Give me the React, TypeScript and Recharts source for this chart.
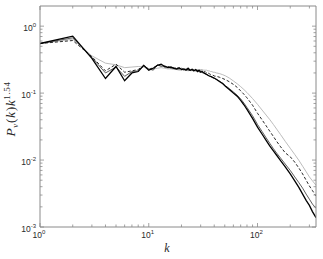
import React from 'react';
import { LineChart, Line, XAxis, YAxis } from 'recharts';

const K = [1, 2, 3, 4, 5, 6, 7, 8, 9, 10, 11, 12, 13, 14, 15, 16, 17, 18, 19, 20, 21, 22, 23, 24, 25, 26, 27, 28, 29, 30, 31, 32, 33, 34, 35, 36, 37, 38, 39, 40,
  42, 45, 48, 51, 55, 60, 65, 70, 75, 80, 90, 100, 110, 120, 130, 140, 150, 163, 180, 200, 220, 240, 260, 280, 300, 320, 345];

const SERIES_BLACK = [0.55, 0.71, 0.33, 0.165, 0.25, 0.153, 0.2, 0.21, 0.26, 0.22,
  0.235, 0.26, 0.27, 0.25, 0.24, 0.245, 0.235, 0.23, 0.24, 0.225,
  0.23, 0.22, 0.235, 0.22, 0.225, 0.215, 0.225, 0.21, 0.22, 0.205,
  0.21, 0.2, 0.195, 0.19, 0.185, 0.18, 0.178, 0.175, 0.17, 0.168,
  0.16, 0.148, 0.138, 0.125, 0.113, 0.1, 0.09, 0.078, 0.067, 0.057,
  0.042, 0.031, 0.0245, 0.0197, 0.0161, 0.0137, 0.0118, 0.0098, 0.0079, 0.0062,
  0.0049, 0.0039, 0.0031, 0.0025, 0.0021, 0.0017, 0.00138];

const SERIES_THIN = [0.55, 0.67, 0.34, 0.2, 0.245, 0.178, 0.21, 0.215, 0.255, 0.23,
  0.22, 0.265, 0.25, 0.255, 0.245, 0.235, 0.24, 0.225, 0.23, 0.235,
  0.22, 0.23, 0.225, 0.215, 0.23, 0.22, 0.215, 0.22, 0.205, 0.215,
  0.2, 0.205, 0.195, 0.19, 0.185, 0.18, 0.178, 0.172, 0.17, 0.166,
  0.16, 0.15, 0.14, 0.128, 0.117, 0.104, 0.093, 0.082, 0.071, 0.061,
  0.046, 0.034, 0.0268, 0.0215, 0.0177, 0.0148, 0.0127, 0.0107, 0.0087, 0.007,
  0.0056, 0.0046, 0.0038, 0.0031, 0.0026, 0.0022, 0.0019];

const SERIES_DASHED = [0.55, 0.61, 0.35, 0.215, 0.27, 0.205, 0.215, 0.225, 0.26, 0.225,
  0.24, 0.255, 0.265, 0.245, 0.25, 0.24, 0.235, 0.24, 0.23, 0.235,
  0.225, 0.23, 0.22, 0.23, 0.225, 0.22, 0.225, 0.215, 0.22, 0.21,
  0.215, 0.205, 0.21, 0.2, 0.2, 0.195, 0.19, 0.188, 0.185, 0.18,
  0.178, 0.172, 0.165, 0.158, 0.148, 0.135, 0.122, 0.108, 0.096, 0.085,
  0.066, 0.05, 0.04, 0.0325, 0.0268, 0.0225, 0.019, 0.0158, 0.0128, 0.0112,
  0.0093, 0.0076, 0.0062, 0.005, 0.0041, 0.0035, 0.0029];

const SERIES_GRAY = [0.55, 0.64, 0.36, 0.28, 0.265, 0.24, 0.245, 0.25, 0.245, 0.225,
  0.23, 0.235, 0.24, 0.235, 0.23, 0.23, 0.225, 0.225, 0.22, 0.22,
  0.225, 0.22, 0.215, 0.22, 0.215, 0.22, 0.22, 0.225, 0.22, 0.225,
  0.225, 0.22, 0.22, 0.22, 0.215, 0.215, 0.21, 0.21, 0.205, 0.205,
  0.2, 0.195, 0.188, 0.18, 0.168, 0.152, 0.138, 0.125, 0.113, 0.102,
  0.083, 0.068, 0.056, 0.047, 0.04, 0.034, 0.029, 0.024, 0.019, 0.015,
  0.0121, 0.0099, 0.0081, 0.0067, 0.0056, 0.0049, 0.0042];

const X_TICKS = [1, 2, 3, 4, 5, 6, 7, 8, 9, 10, 20, 30, 40, 50, 60, 70, 80, 90, 100, 200, 300];
const X_MAJOR = [1, 10, 100];
const X_LABELS = ['0', '1', '2'];
const Y_TICKS = [0.001, 0.002, 0.003, 0.004, 0.005, 0.006, 0.007, 0.008, 0.009,
  0.01, 0.02, 0.03, 0.04, 0.05, 0.06, 0.07, 0.08, 0.09,
  0.1, 0.2, 0.3, 0.4, 0.5, 0.6, 0.7, 0.8, 0.9, 1];
const Y_MAJOR = [0.001, 0.01, 0.1, 1];
const Y_LABELS = ['-3', '-2', '-1', '0'];

const data = K.map((k, i) => ({
  k,
  b: SERIES_BLACK[i],
  t: SERIES_THIN[i],
  d: SERIES_DASHED[i],
  g: SERIES_GRAY[i],
}));

const W = 323;
const H = 259;
const M = { top: 5, right: 6, bottom: 31, left: 39 };
const PL = 40;
const PR = 316;
const PT = 6;
const PB = 227;
const AXIS = '#8a8a8a';
const TXT = '#2a2a2a';
const FONT = 'Liberation Sans, Arial, sans-serif';
const SERIF = 'Liberation Serif, Times New Roman, serif';
const MAJ = 4;
const MIN = 2.5;

const majIndex = (arr: number[], v: number) => arr.findIndex((m) => Math.abs(m - v) < 1e-9);

const XBottomTick = (props: any) => {
  const x = props.x;
  const idx = majIndex(X_MAJOR, props.payload.value);
  const len = idx >= 0 ? MAJ : MIN;
  return (
    <g>
      <line x1={x} x2={x} y1={PB} y2={PB - len} stroke={AXIS} strokeWidth={0.8} />
      {idx >= 0 && (
        <text x={x - 1} y={PB + 10.5} textAnchor="middle" fontFamily={FONT} fontSize={8.5} fill={TXT} style={{ fill: TXT }}>
          <tspan>10</tspan>
          <tspan dy={-4} fontSize={6}>{X_LABELS[idx]}</tspan>
        </text>
      )}
    </g>
  );
};

const XTopTick = (props: any) => {
  const x = props.x;
  const idx = majIndex(X_MAJOR, props.payload.value);
  const len = idx >= 0 ? MAJ : MIN;
  return <line x1={x} x2={x} y1={PT} y2={PT + len} stroke={AXIS} strokeWidth={0.8} />;
};

const YLeftTick = (props: any) => {
  const y = props.y;
  const idx = majIndex(Y_MAJOR, props.payload.value);
  const len = idx >= 0 ? MAJ : MIN;
  return (
    <g>
      <line x1={PL} x2={PL + len} y1={y} y2={y} stroke={AXIS} strokeWidth={0.8} />
      {idx >= 0 && (
        <text x={36} y={y + 4.5} textAnchor="end" fontFamily={FONT} fontSize={8.5} fill={TXT} style={{ fill: TXT }}>
          <tspan>10</tspan>
          <tspan dy={-4} fontSize={6}>{Y_LABELS[idx]}</tspan>
        </text>
      )}
    </g>
  );
};

const YRightTick = (props: any) => {
  const y = props.y;
  const idx = majIndex(Y_MAJOR, props.payload.value);
  const len = idx >= 0 ? MAJ : MIN;
  return <line x1={PR} x2={PR - len} y1={y} y2={y} stroke={AXIS} strokeWidth={0.8} />;
};

const XTitle = () => (
  <text x={167} y={252} textAnchor="middle" fontFamily={SERIF} fontStyle="italic" fontSize={12} style={{ fill: TXT }}>
    k
  </text>
);

const YTitle = () => (
  <text transform="translate(15,109) rotate(-90)" textAnchor="middle" fontFamily={SERIF} fontSize={13.5} style={{ fill: TXT }} letterSpacing={0.6}>
    <tspan fontStyle="italic">P</tspan>
    <tspan fontStyle="italic" fontSize={9} dy={2.5}>v</tspan>
    <tspan dy={-2.5}>(</tspan>
    <tspan fontStyle="italic">k</tspan>
    <tspan>)</tspan>
    <tspan fontStyle="italic">k</tspan>
    <tspan fontSize={9} dy={-5}>1.54</tspan>
  </text>
);

export default function App() {
  return (
    <div style={{ position: 'absolute', left: 0, top: 0, width: W, height: H, background: '#fff' }}>
      <LineChart width={W} height={H} data={data} margin={M}>
        <XAxis
          xAxisId="b"
          dataKey="k"
          type="number"
          scale="log"
          domain={[1, 345]}
          allowDataOverflow
          ticks={X_TICKS}
          interval={0}
          height={1}
          orientation="bottom"
          tickLine={false}
          axisLine={{ stroke: AXIS, strokeWidth: 1 }}
          tick={XBottomTick}
          label={{ content: XTitle }}
        />
        <XAxis
          xAxisId="t"
          dataKey="k"
          type="number"
          scale="log"
          domain={[1, 345]}
          allowDataOverflow
          ticks={X_TICKS}
          interval={0}
          height={1}
          orientation="top"
          tickLine={false}
          axisLine={{ stroke: AXIS, strokeWidth: 1 }}
          tick={XTopTick}
        />
        <YAxis
          yAxisId="l"
          type="number"
          scale="log"
          domain={[0.001, 2]}
          allowDataOverflow
          ticks={Y_TICKS}
          interval={0}
          width={1}
          orientation="left"
          tickLine={false}
          axisLine={{ stroke: AXIS, strokeWidth: 1 }}
          tick={YLeftTick}
          label={{ content: YTitle }}
        />
        <YAxis
          yAxisId="r"
          type="number"
          scale="log"
          domain={[0.001, 2]}
          allowDataOverflow
          ticks={Y_TICKS}
          interval={0}
          width={1}
          orientation="right"
          tickLine={false}
          axisLine={{ stroke: AXIS, strokeWidth: 1 }}
          tick={YRightTick}
        />
        <Line xAxisId="b" yAxisId="l" dataKey="g" type="linear" stroke="#b4b4b4" strokeWidth={0.9} dot={false} isAnimationActive={false} />
        <Line xAxisId="b" yAxisId="l" dataKey="d" type="linear" stroke="#111" strokeWidth={0.9} strokeDasharray="3 2" dot={false} isAnimationActive={false} />
        <Line xAxisId="b" yAxisId="l" dataKey="t" type="linear" stroke="#333" strokeWidth={0.8} dot={false} isAnimationActive={false} />
        <Line xAxisId="b" yAxisId="l" dataKey="b" type="linear" stroke="#000" strokeWidth={1.3} dot={false} isAnimationActive={false} />
      </LineChart>
    </div>
  );
}
